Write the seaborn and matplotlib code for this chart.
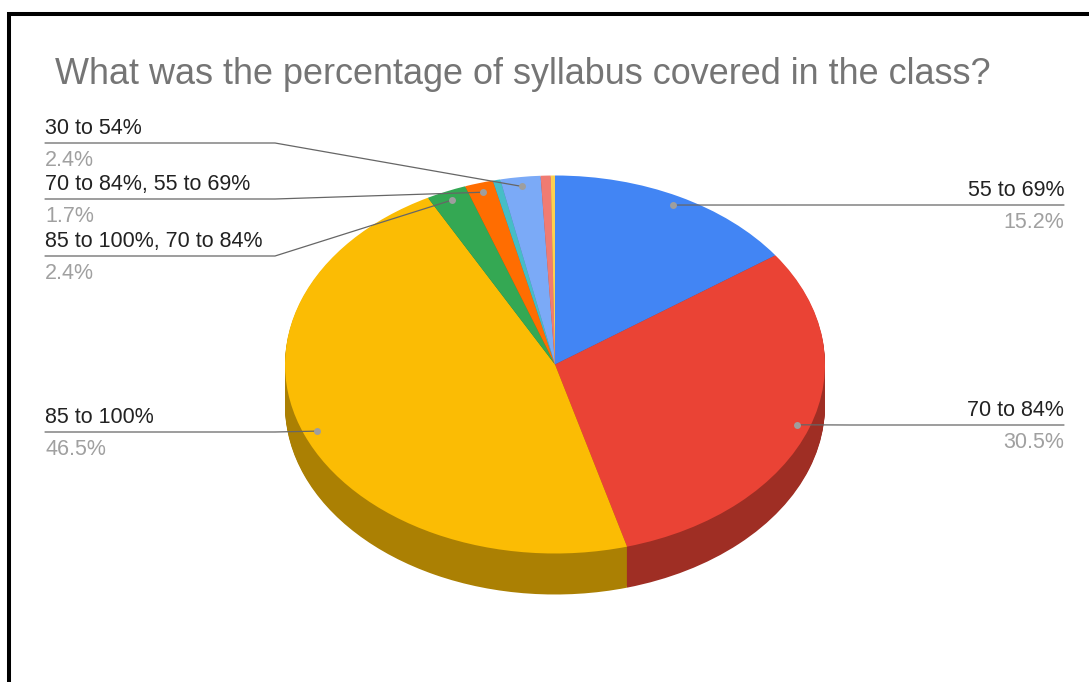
import numpy as np
import matplotlib
matplotlib.use('Agg')
import matplotlib.pyplot as plt
import seaborn as sns

title = 'What was the percentage of syllabus covered in the class?'
slices = ['55 to 69%', '70 to 84%', '85 to 100%', '85 to 100%, 70 to 84%',
          '70 to 84%, 55 to 69%', 'other a', '30 to 54%', 'other b', 'other c']
shares = [15.2, 30.5, 46.5, 2.4, 1.7, 0.45, 2.4, 0.6, 0.25]
colors = ['#4285f4', '#ea4335', '#fbbc04', '#34a853', '#ff6d01',
          '#46bdc6', '#7baaf7', '#f07b72', '#fcd04f']

sns.set_theme(style='white')
plt.rcParams['font.family'] = ['Liberation Sans', 'DejaVu Sans']

W, H = 1089, 682
cx, cy, rx, ry, depth = 555, 364.5, 270, 189, 41

fig = plt.figure(figsize=(W / 100, H / 100), dpi=100, facecolor='white')

# pie lives in unit coords, squashed by the axes limits
pie_ax = fig.add_axes([0, 0, 1, 1])
palette = sns.color_palette(colors)
dark = [tuple(np.array(c) * 0.68) for c in palette]
for off in np.arange(depth, 0, -1):
    pie_ax.pie(shares, colors=dark, startangle=90, counterclock=False, radius=1,
               center=(0, -off / ry), wedgeprops={'linewidth': 1, 'edgecolor': 'none'})
pie_ax.pie(shares, colors=palette, startangle=90, counterclock=False, radius=1,
           center=(0, 0), wedgeprops={'linewidth': 0})
pie_ax.set_aspect('auto')
pie_ax.set_xlim(-cx / rx, (W - cx) / rx)
pie_ax.set_ylim(-(H - cy) / ry, cy / ry)
pie_ax.axis('off')

# overlay in pixel coords for the labels and leader lines
ax = fig.add_axes([0, 0, 1, 1], facecolor='none')
ax.set_xlim(0, W)
ax.set_ylim(H, 0)
ax.axis('off')

# black frame of the screenshot
ax.plot([9, 9], [H, 12], color='black', lw=2.9, solid_capstyle='butt')
ax.plot([7, W], [13.5, 13.5], color='black', lw=2.9, solid_capstyle='butt')

ax.text(55, 74, title, fontsize=25.9, color='#757575', va='center', ha='left')


def slice_anchor(name):
    # dot sits at 95% of the radius on the slice's middle angle
    i = slices.index(name)
    mid = (sum(shares[:i]) + shares[i] / 2) / sum(shares) * 2 * np.pi
    return cx + 0.95 * rx * np.sin(mid), cy - 0.95 * ry * np.cos(mid)


# name, side, line y, elbow x
callouts = [
    ('30 to 54%', 'left', 143, 275),
    ('70 to 84%, 55 to 69%', 'left', 199, 275),
    ('85 to 100%, 70 to 84%', 'left', 256, 275),
    ('85 to 100%', 'left', 432, 275),
    ('55 to 69%', 'right', 205, 800),
    ('70 to 84%', 'right', 425, 850),
]

for name, side, ly, ex in callouts:
    px, py = slice_anchor(name)
    share = shares[slices.index(name)]
    tx = 45 if side == 'left' else 1064
    ax.plot([tx, ex, px], [ly, ly, py], color='#666666', lw=0.9, zorder=3)
    ax.plot(px, py, 'o', ms=5, color='#9e9e9e', mew=0, zorder=4)
    ax.text(tx, ly - 4, name, fontsize=15.5, color='#222222', ha=side, va='bottom')
    ax.text(tx, ly + 7, f'{share}%', fontsize=15.5, color='#a0a0a0', ha=side, va='top')

fig.savefig('out.png', dpi=100)
